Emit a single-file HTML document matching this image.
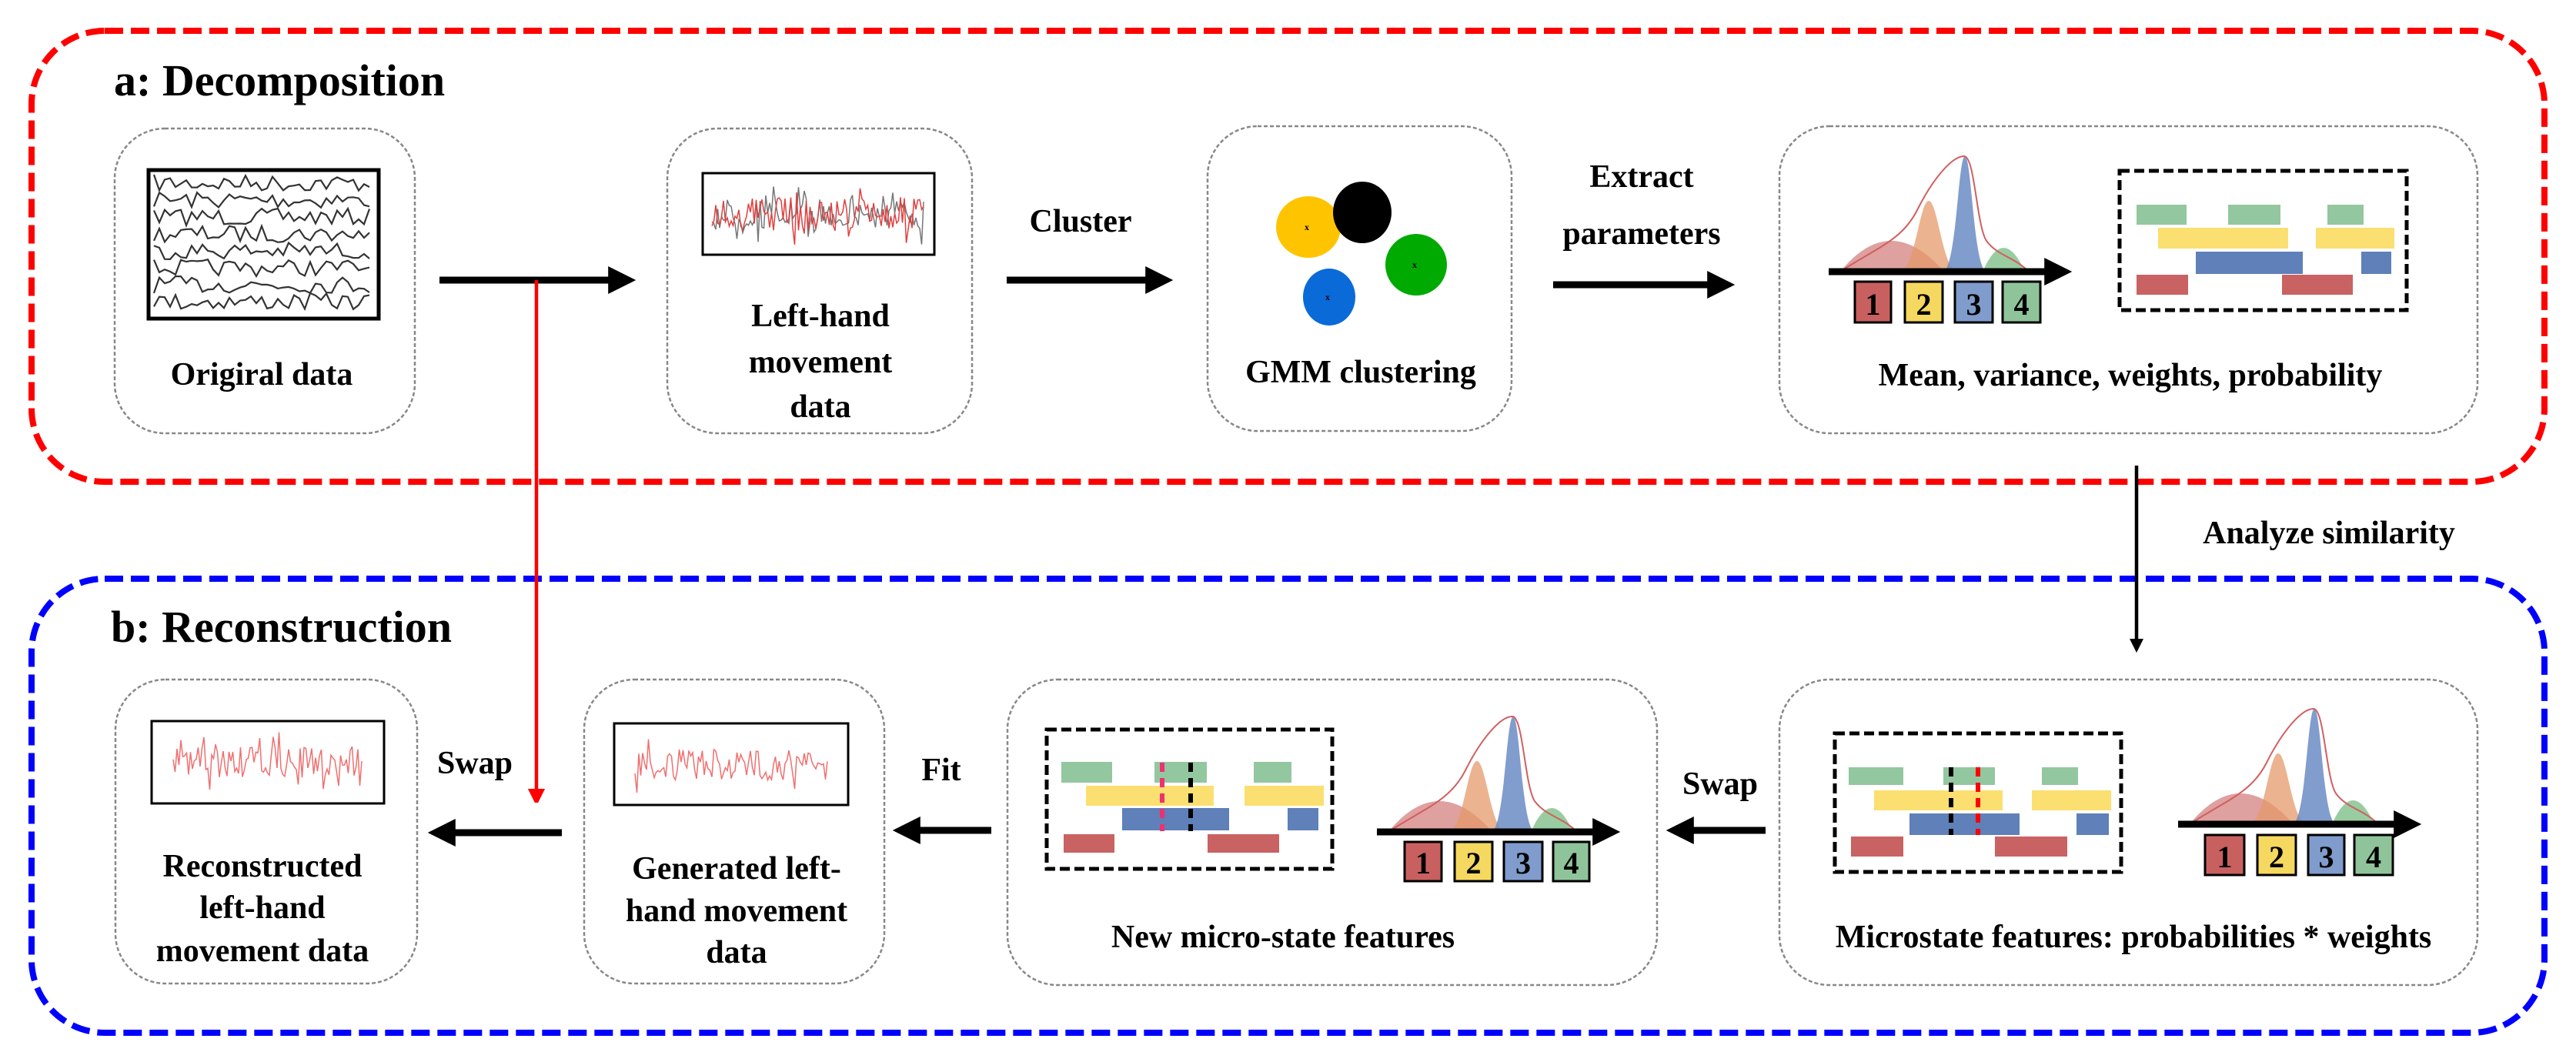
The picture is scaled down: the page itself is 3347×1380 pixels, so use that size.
<!DOCTYPE html>
<html><head><meta charset="utf-8">
<style>
html,body{margin:0;padding:0;background:#fff;}
svg{display:block;}
text{font-family:"Liberation Serif","Times New Roman",serif;font-weight:bold;fill:#000;}
</style></head>
<body>
<svg id="s" width="3347" height="1380" viewBox="0 0 3347 1380" xmlns="http://www.w3.org/2000/svg">
<defs>
<marker id="ah" markerWidth="4" markerHeight="4" refX="2.2" refY="2" orient="auto" markerUnits="strokeWidth"><path d="M0,0 L4,2 L0,4 z" fill="#000"/></marker>
<marker id="ahr" markerWidth="4" markerHeight="5" refX="2.5" refY="2.5" orient="auto" markerUnits="strokeWidth"><path d="M0,0 L5,2.5 L0,5 z" fill="#f00"/></marker>
<g id="gauss">
  <path d="M15,0 Q80,-80 150,0 Z" fill="#c96060" opacity="0.6"/>
  <path d="M92,0 C112,0 118,-92 130,-92 C142,-92 148,0 168,0Z" fill="#e49a6a" opacity="0.75"/>
  <path d="M148,0 C166,0 168,-150 177,-150 C186,-150 188,0 206,0Z" fill="#6b8cc4" opacity="0.85"/>
  <path d="M200,0 Q227,-62 255,0Z" fill="#7fc08a" opacity="0.8"/>
  <path d="M15,0 C60,-30 95,-40 115,-80 C135,-120 160,-150 176,-150 C190,-150 192,-60 205,-40 C220,-20 240,-20 260,0" fill="none" stroke="#d06060" stroke-width="2"/>
  <line x1="0" y1="0" x2="300" y2="0" stroke="#000" stroke-width="9" marker-end="url(#ah)"/>
</g>
</defs>

<!-- outer groups -->
<rect x="41" y="40" width="3265" height="586" rx="95" fill="none" stroke="#f00" stroke-width="8" stroke-dasharray="24 10"/>
<rect x="41" y="752" width="3265" height="590" rx="95" fill="none" stroke="#00f" stroke-width="8" stroke-dasharray="24 10"/>

<text x="148" y="124" font-size="58">a: Decomposition</text>
<text x="144" y="834" font-size="58">b: Reconstruction</text>

<!-- node boxes -->
<g fill="none" stroke="#888" stroke-width="2.5" stroke-dasharray="5 3">
<rect x="149" y="167" width="390" height="396" rx="65"/>
<rect x="867" y="167" width="396" height="396" rx="65"/>
<rect x="1569" y="164" width="395" height="396" rx="65"/>
<rect x="2312" y="164" width="907" height="399" rx="65"/>
<rect x="150" y="883" width="392" height="395" rx="65"/>
<rect x="759" y="883" width="390" height="395" rx="65"/>
<rect x="1309" y="883" width="844" height="397" rx="65"/>
<rect x="2312" y="883" width="907" height="397" rx="65"/>
</g>

<!-- image frames -->
<rect x="193" y="221" width="299" height="193" fill="#fff" stroke="#000" stroke-width="5"/>
<rect x="913" y="225" width="301" height="106" fill="#fff" stroke="#000" stroke-width="3"/>
<rect x="197" y="937" width="302" height="107" fill="#fff" stroke="#000" stroke-width="3"/>
<rect x="798" y="940" width="304" height="106" fill="#fff" stroke="#000" stroke-width="3"/>
<g id="sig"></g>

<!-- labels -->
<g font-size="42" text-anchor="middle">
<text x="340" y="500">Origiral  data</text>
<text x="1066" y="424">Left-hand</text>
<text x="1066" y="484">movement</text>
<text x="1066" y="542">data</text>
<text x="1404" y="301">Cluster</text>
<text x="1768" y="497">GMM clustering</text>
<text x="2133" y="243">Extract</text>
<text x="2133" y="317">parameters</text>
<text x="2768" y="501">Mean, variance,  weights,  probability</text>
<text x="3026" y="706">Analyze similarity</text>
<text x="341" y="1139">Reconstructed</text>
<text x="341" y="1193">left-hand</text>
<text x="341" y="1249">movement data</text>
<text x="617" y="1005">Swap</text>
<text x="957" y="1142">Generated left-</text>
<text x="957" y="1197">hand movement</text>
<text x="957" y="1251">data</text>
<text x="1223" y="1014">Fit</text>
<text x="1667" y="1231">New micro-state features</text>
<text x="2235" y="1032">Swap</text>
<text x="2772" y="1231">Microstate features: probabilities * weights</text>
</g>

<!-- arrows -->
<g stroke="#000" stroke-width="9">
<line x1="571" y1="364" x2="810" y2="364" marker-end="url(#ah)"/>
<line x1="1308" y1="364" x2="1508" y2="364" marker-end="url(#ah)"/>
<line x1="2018" y1="370" x2="2238" y2="370" marker-end="url(#ah)"/>
<line x1="730" y1="1082" x2="572" y2="1082" marker-end="url(#ah)"/>
<line x1="1288" y1="1079" x2="1176" y2="1079" marker-end="url(#ah)"/>
<line x1="2294" y1="1079" x2="2181" y2="1079" marker-end="url(#ah)"/>
</g>
<line x1="2776" y1="605" x2="2776" y2="840" stroke="#000" stroke-width="4.5" marker-end="url(#ah)"/>
<line x1="697" y1="364" x2="697" y2="1036" stroke="#f00" stroke-width="4.5" marker-end="url(#ahr)"/>

<!-- GMM clusters -->
<g>
<ellipse cx="1700" cy="295" rx="42" ry="40" fill="#ffc400"/>
<ellipse cx="1770" cy="276" rx="38" ry="40" fill="#000"/>
<ellipse cx="1840" cy="344" rx="40" ry="40" fill="#0a0"/>
<ellipse cx="1727" cy="386" rx="34" ry="37" fill="#0a6ad8"/>
<g fill="#e00" font-size="12"><text x="1695" y="299">x</text><text x="1765" y="281">x</text><text x="1835" y="348">x</text><text x="1722" y="390">x</text></g>
</g>

<!-- gaussians -->
<use href="#gauss" transform="translate(2376,353)"/>
<use href="#gauss" transform="translate(1789,1081)"/>
<use href="#gauss" transform="translate(2830,1071)"/>

<!-- number boxes -->
<g id="nums" font-size="40" stroke="#000" stroke-width="3"></g>

<!-- bar panels -->
<g id="bars"></g>
<g fill="none" stroke="#000" stroke-width="5" stroke-dasharray="13 6">
<rect x="2754" y="222" width="373" height="181"/>
<rect x="1360" y="948" width="371" height="181"/>
<rect x="2384" y="953" width="372" height="180"/>
</g>
<g stroke-width="6" stroke-dasharray="12 8">
<line x1="1510" y1="991" x2="1510" y2="1080" stroke="#f03070"/>
<line x1="1547" y1="991" x2="1547" y2="1080" stroke="#000"/>
<line x1="2535" y1="997" x2="2535" y2="1085" stroke="#000"/>
<line x1="2570" y1="997" x2="2570" y2="1085" stroke="#f00"/>
</g>
</svg>
<script>
var NS="http://www.w3.org/2000/svg";
var s=document.getElementById('s');
function el(p,tag,a){var e=document.createElementNS(NS,tag);for(var k in a)e.setAttribute(k,a[k]);p.appendChild(e);return e;}
var seed=7;function r(){seed=(seed*16807)%2147483647;return seed/2147483647;}
var sig=document.getElementById('sig');
// original data: 8 lines
for(var i=0;i<8;i++){var y0=238+i*22,pts=[];for(var x=200;x<=484;x+=7){pts.push(x+","+(y0+(r()-0.5)*22).toFixed(1));}
el(sig,'polyline',{points:pts.join(' '),fill:'none',stroke:'#333','stroke-width':2.2});}
function noisy(x0,x1,yc,amp,col,w){var pts=[];for(var x=x0;x<=x1;x+=2.5){var a=amp*(r()-0.5)*(r()<0.15?2:1);pts.push(x+","+(yc+a).toFixed(1));}
el(sig,'polyline',{points:pts.join(' '),fill:'none',stroke:col,'stroke-width':w});}
noisy(925,1200,278,40,'#777',1.5);noisy(925,1200,278,44,'#e04040',1.5);
noisy(225,470,991,40,'#f07070',1.5);noisy(825,1075,994,40,'#f07070',1.5);
// number boxes
var cols=['#c96060','#f5d860','#7f9ccc','#8fc49a'];
function nums(xs,y0,y1){var g=document.getElementById('nums');for(var i=0;i<4;i++){var w=xs[i][1]-xs[i][0];
el(g,'rect',{x:xs[i][0],y:y0,width:w,height:y1-y0,fill:cols[i]});
var t=el(g,'text',{x:xs[i][0]+w/2,y:y1-10,'text-anchor':'middle',stroke:'none','font-family':'Liberation Sans, sans-serif'});t.textContent=(i+1);}}
nums([[2410,2457],[2475,2524],[2540,2589],[2602,2651]],366,419);
nums([[1825,1873],[1890,1939],[1954,2004],[2018,2065]],1094,1145);
nums([[2865,2916],[2933,2983],[2999,3046],[3059,3109]],1085,1137);
// bars
var bc={g:'#93c79f',y:'#fbdf70',b:'#5f80b8',r:'#c96262'};
function bars(list){var g=document.getElementById('bars');list.forEach(function(b){el(g,'rect',{x:b[1],y:b[3],width:b[2]-b[1],height:b[4]-b[3],fill:bc[b[0]]});});}
bars([['g',2776,2841,266,292],['g',2895,2963,266,292],['g',3024,3071,266,292],
['y',2804,2973,296,323],['y',3009,3111,296,323],['b',2853,2992,327,356],['b',3068,3107,327,356],
['r',2776,2843,357,383],['r',2965,3057,357,383]]);
bars([['g',1379,1445,990,1017],['g',1500,1568,990,1017],['g',1629,1678,990,1017],
['y',1411,1577,1021,1047],['y',1617,1720,1021,1047],['b',1458,1597,1050,1079],['b',1673,1713,1050,1079],
['r',1382,1448,1084,1108],['r',1569,1662,1084,1108]]);
bars([['g',2402,2473,997,1020],['g',2525,2592,997,1020],['g',2653,2700,997,1020],
['y',2435,2602,1027,1053],['y',2640,2743,1027,1053],['b',2481,2624,1057,1085],['b',2698,2740,1057,1085],
['r',2405,2473,1087,1113],['r',2592,2686,1087,1113]]);
</script>
</body></html>
